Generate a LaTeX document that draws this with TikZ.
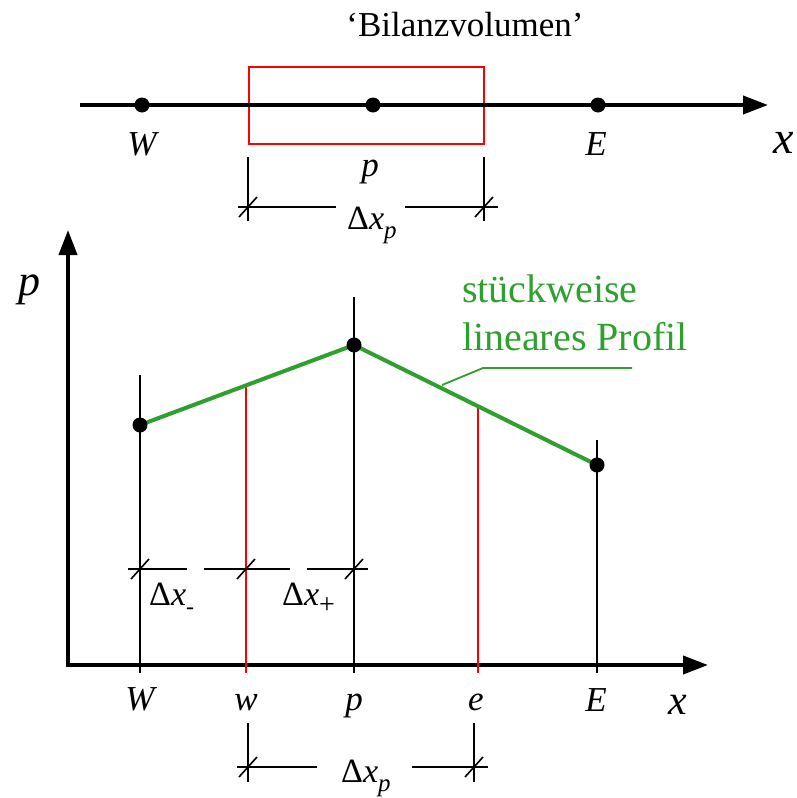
\documentclass[tikz,border=0pt]{standalone}
\usepackage{fontspec}
\setmainfont{Liberation Serif}
\usetikzlibrary{arrows.meta}
\definecolor{pgreen}{RGB}{45,160,45}
\definecolor{pred}{RGB}{255,0,0}
\begin{document}
\begin{tikzpicture}[x=1pt,y=-1pt,
  axisline/.style={line width=4pt,-{Triangle[length=25pt,width=18pt]}},
  vline/.style={line width=1.8pt},
  redline/.style={line width=1.8pt,draw=pred},
  dimline/.style={line width=1.6pt},
  dot/.style={circle,fill=black,inner sep=0pt,minimum size=15pt},
  lbl/.style={inner sep=0pt,anchor=base,font=\fontsize{35}{40}\selectfont\itshape},
  dlbl/.style={inner sep=0pt,anchor=base west,font=\fontsize{34}{40}\selectfont},
  glbl/.style={inner sep=0pt,anchor=base west,text=pgreen,font=\fontsize{40}{48}\selectfont}]
\useasboundingbox (0,0) rectangle (796,798);

% ---------- top: Bilanzvolumen ----------
\node[inner sep=0pt,anchor=base,font=\fontsize{35}{40}\selectfont] (bil) at (465,36) {‘Bilanzvolumen’};
\coordinate (tA) at (80,105);
\coordinate (tB) at (768,105);
\draw[redline,line width=1.5pt] (249,67) rectangle (484,144);
\draw[axisline] (tA) -- (tB);
\node[dot] (tW) at (142,105) {};
\node[dot] (tP) at (373,105) {};
\node[dot] (tE) at (598,105) {};
\node[lbl] (tWl) at (142,155) {W};
\node[lbl] (tEl) at (596,155) {E};
\node[lbl] (tPl) at (370,176) {p};
\node[lbl,font=\fontsize{46}{50}\selectfont\itshape] (tXl) at (784,153) {x};
% dimension Delta x_p (top)
\coordinate (te1a) at (248,157); \coordinate (te1b) at (248,221);
\coordinate (te2a) at (484,157); \coordinate (te2b) at (484,221);
\coordinate (td1) at (248,207); \coordinate (td2) at (484,207);
\coordinate (td1l) at (238,207); \coordinate (td1r) at (336,207);
\coordinate (td2l) at (405,207); \coordinate (td2r) at (498,207);
\draw[dimline] (te1a) -- (te1b);
\draw[dimline] (te2a) -- (te2b);
\draw[dimline] (td1l) -- (td1r);
\draw[dimline] (td2l) -- (td2r);
\draw[dimline] (td1) ++(-9,10) -- ++(18,-20);
\draw[dimline] (td2) ++(-9,10) -- ++(18,-20);
\node[dlbl] (tdl) at (347,229) {Δ\textit{x}\raisebox{-9pt}{\fontsize{25}{25}\selectfont\textit{p}}};

% ---------- bottom graph ----------
\coordinate (O) at (68,665);
\coordinate (yT) at (68,230);
\coordinate (xT) at (708,665);
\coordinate (O2) at (66,665);
\draw[axisline] (O) -- (yT);
\draw[axisline] (O2) -- (xT);
\node[lbl,font=\fontsize{44}{48}\selectfont\itshape] (pax) at (30,295) {p};
\node[lbl,font=\fontsize{42}{46}\selectfont\itshape] (xax) at (678,714) {x};

% points
\coordinate (gW) at (140,425);
\coordinate (gP) at (354,345);
\coordinate (gE) at (597,465);
\coordinate (gw) at (246,385.5);
\coordinate (ge) at (478,406);
% vertical lines
\coordinate (vW1) at (140,375); \coordinate (vW2) at (140,673);
\coordinate (vP1) at (354,297); \coordinate (vP2) at (354,673);
\coordinate (vE1) at (597,440); \coordinate (vE2) at (597,673);
\coordinate (vw2) at (246,673);
\coordinate (ve2) at (478,673);
\draw[vline] (vW1) -- (vW2);
\draw[vline] (vP1) -- (vP2);
\draw[vline] (vE1) -- (vE2);
\draw[redline] (gw) -- (vw2);
\draw[redline] (ge) -- (ve2);
% green profile
\draw[pgreen,line width=4pt] (gW) -- (gP) -- (gE);
\node[dot] (dW) at (gW) {};
\node[dot] (dP) at (gP) {};
\node[dot] (dE) at (gE) {};
% leader + label
\coordinate (L0) at (442,385);
\coordinate (L1) at (483,368);
\coordinate (L2) at (632,368);
\draw[pgreen,line width=1.8pt] (L0) -- (L1) -- (L2);
\node[glbl] (g1) at (462,302) {stückweise};
\node[glbl] (g2) at (462,350) {lineares Profil};

% axis labels
\node[lbl] (bW) at (140,710) {W};
\node[lbl] (bw) at (246,710) {w};
\node[lbl] (bp) at (354,710) {p};
\node[lbl] (be) at (476,710) {e};
\node[lbl] (bE) at (596,711) {E};

% Delta x- / Delta x+
\coordinate (m1) at (140,569); \coordinate (m2) at (246,569); \coordinate (m3) at (354,569);
\coordinate (s1a) at (128,569); \coordinate (s1b) at (187,569);
\coordinate (s2a) at (204,569); \coordinate (s2b) at (290,569);
\coordinate (s3a) at (307,569); \coordinate (s3b) at (368,569);
\draw[dimline] (s1a) -- (s1b);
\draw[dimline] (s2a) -- (s2b);
\draw[dimline] (s3a) -- (s3b);
\draw[dimline] (m1) ++(-9,10) -- ++(18,-20);
\draw[dimline] (m2) ++(-9,10) -- ++(18,-20);
\draw[dimline] (m3) ++(-9,10) -- ++(18,-20);
\node[dlbl] (dm) at (149,605) {Δ\textit{x}\raisebox{-9pt}{\fontsize{24}{24}\selectfont -}};
\node[dlbl] (dpl) at (282,605) {Δ\textit{x}\raisebox{-8pt}{\fontsize{28}{28}\selectfont +}};

% bottom dimension Delta x_p
\coordinate (be1a) at (248,723); \coordinate (be1b) at (248,782);
\coordinate (be2a) at (474,723); \coordinate (be2b) at (474,782);
\coordinate (bd1) at (248,767); \coordinate (bd2) at (474,767);
\coordinate (bd1l) at (237,767); \coordinate (bd1r) at (317,767);
\coordinate (bd2l) at (412,767); \coordinate (bd2r) at (488,767);
\draw[dimline] (be1a) -- (be1b);
\draw[dimline] (be2a) -- (be2b);
\draw[dimline] (bd1l) -- (bd1r);
\draw[dimline] (bd2l) -- (bd2r);
\draw[dimline] (bd1) ++(-9,10) -- ++(18,-20);
\draw[dimline] (bd2) ++(-9,10) -- ++(18,-20);
\node[dlbl] (bdl) at (341,782) {Δ\textit{x}\raisebox{-9pt}{\fontsize{25}{25}\selectfont\textit{p}}};
\end{tikzpicture}
\end{document}
